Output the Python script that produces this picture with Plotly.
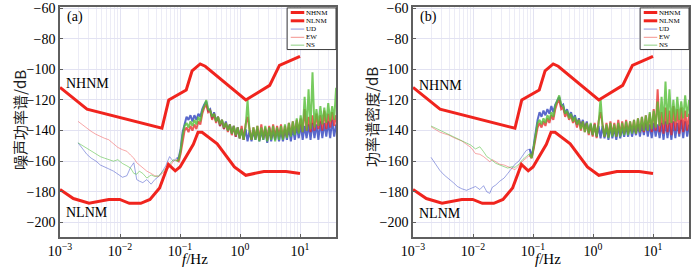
import numpy as np
import plotly.graph_objects as go

# ---------------- data ----------------
# Peterson noise models (frequency Hz, dB)
NHNM_F = [0.001, 0.00282, 0.05, 0.065, 0.127, 0.159, 0.217, 0.263, 1.25, 3.125, 4.545, 10.0]
NHNM_DB = [-111.8, -126.0, -138.5, -120.0, -113.5, -101.0, -96.5, -98.0, -120.0, -110.5, -97.4, -91.5]
NLNM_F = [0.001, 0.00167, 0.00305, 0.0065, 0.0099, 0.0143, 0.0222, 0.0316, 0.0457, 0.0641,
          0.0833, 0.1, 0.167, 0.2, 0.233, 0.417, 0.806, 1.25, 2.5, 5.88, 10.0]
NLNM_DB = [-178.5, -184.4, -187.5, -185.0, -185.0, -187.5, -187.5, -185.0, -177.5, -162.1,
           -166.3, -163.8, -149.0, -141.1, -141.1, -148.6, -163.7, -169.2, -166.7, -166.7, -168.0]

# low-frequency sampling grid (Hz)
F_LOW = [0.002, 0.0024, 0.0028, 0.0033, 0.004, 0.0047, 0.0055, 0.0065, 0.0078, 0.0092,
         0.011, 0.013, 0.015, 0.017, 0.019, 0.021, 0.024, 0.028, 0.033, 0.038,
         0.044, 0.05, 0.058, 0.067, 0.077, 0.088]
# high-frequency sampling grid (Hz), uniform in log
F_HIGH = list(np.geomspace(0.095, 40.0, 81))

X_TICKVALS = [0.001, 0.01, 0.1, 1, 10]
X_TICKTEXT = ["10<sup>−3</sup>", "10<sup>−2</sup>", "10<sup>−1</sup>", "10<sup>0</sup>", "10<sup>1</sup>"]

# panel (a)
UD_A_LOW = [-148, -152, -155.5, -158, -160, -162.5, -163.5, -165, -166.5, -168.5,
            -170.5, -169.5, -164, -161, -172, -173, -174, -172, -175, -172,
            -170, -167, -163, -157, -160, -158]
EW_A_LOW = [-134, -136.5, -138.5, -140.5, -142.5, -144, -145, -146, -148.5, -151,
            -152.5, -153.5, -156, -158, -161, -162.5, -164.5, -166.5, -168, -169.5,
            -170, -168, -166, -164, -160, -159]
NS_A_LOW = [-148, -150, -151.5, -153.5, -155.5, -157, -158, -159, -160, -159,
            -161.5, -163, -164.5, -168, -168.5, -166.5, -168, -171, -169, -170,
            -169.5, -167.5, -165, -162, -159, -160]
UD_A_HIGH = [-158, -152, -141, -136, -131, -133, -130, -134, -130, -133,
             -129, -131, -126, -123, -121, -127, -126, -132, -128, -134,
             -131, -137, -133, -139, -134, -140, -136, -142, -137, -144,
             -138, -145, -139, -146, -139, -147, -140, -147, -140, -146,
             -139, -147, -140, -146, -139, -148, -138, -147, -140, -146,
             -139, -147, -140, -147, -139, -146, -138, -147, -138, -146,
             -137, -145, -136, -146, -137, -145, -136, -146, -135, -145,
             -136, -146, -134, -145, -135, -144, -134, -145, -133, -144, -136]
EW_A_HIGH = [-160, -155, -146, -140, -138, -141, -137, -140, -136, -139,
             -134, -136, -129, -125, -123, -128, -127, -133, -129, -135,
             -131, -137, -133, -139, -135, -141, -136, -143, -137, -144,
             -138, -145, -137, -146, -136, -131, -139, -146, -138, -145,
             -137, -146, -136, -145, -138, -146, -137, -145, -136, -145,
             -137, -144, -136, -145, -137, -144, -135, -143, -134, -142,
             -133, -141, -132, -141, -126, -140, -131, -141, -130, -140,
             -129, -139, -130, -140, -127, -139, -129, -138, -128, -137, -130]
NS_A_HIGH = [-159, -153, -143, -137, -135, -138, -134, -137, -133, -136,
             -131, -134, -127, -124, -120, -126, -127, -131, -129, -134,
             -131, -136, -133, -138, -135, -140, -136, -142, -137, -143,
             -138, -145, -139, -146, -138, -120, -140, -146, -138, -146,
             -137, -147, -138, -146, -137, -147, -138, -146, -137, -147,
             -138, -146, -137, -146, -136, -145, -135, -144, -134, -143,
             -132, -142, -130, -141, -118, -140, -113, -139, -102, -138,
             -126, -137, -124, -136, -125, -135, -122, -134, -124, -133, -112]

# panel (b)
UD_B_LOW = [-157.5, -162.5, -166, -169, -171.5, -174, -176.5, -178, -179, -178,
            -176.5, -178.5, -176, -180, -181, -177, -175.5, -173, -171, -168,
            -165, -162, -160, -156, -153, -152]
EW_B_LOW = [-137.5, -139.5, -141, -142, -143, -144.5, -145.5, -146.8, -149, -151,
            -155, -155.5, -157, -158.5, -160.3, -159, -160.5, -162, -162.5, -163.6,
            -164.5, -165.5, -163, -160, -158, -156]
NS_B_LOW = [-137, -138.5, -139.8, -141, -142.3, -143.8, -145, -146.5, -148, -149.5,
            -152, -150.6, -153.8, -157, -158.2, -159.5, -161.4, -162.5, -163.6, -164.5,
            -163.6, -164, -162, -159, -157, -155]
UD_B_HIGH = [-157, -150, -140, -133, -128, -131, -127, -130, -126, -129,
             -124, -128, -123, -120, -118, -124, -123, -129, -126, -131,
             -128, -133, -130, -136, -132, -137, -133, -139, -134, -141,
             -136, -143, -136, -144, -137, -145, -137, -145, -138, -146,
             -137, -145, -138, -146, -137, -145, -138, -144, -137, -144,
             -136, -144, -137, -143, -136, -144, -136, -143, -135, -144,
             -136, -145, -135, -144, -136, -145, -135, -146, -134, -145,
             -135, -146, -134, -145, -135, -144, -133, -145, -134, -144, -136]
EW_B_HIGH = [-158, -152, -144, -138, -135, -138, -134, -137, -132, -135,
             -130, -133, -126, -122, -120, -126, -125, -131, -128, -133,
             -130, -135, -132, -138, -133, -140, -134, -141, -135, -143,
             -136, -144, -135, -145, -134, -128, -136, -144, -135, -144,
             -134, -143, -135, -144, -133, -143, -134, -142, -133, -142,
             -134, -141, -133, -142, -132, -141, -131, -141, -130, -140,
             -129, -141, -126, -140, -113, -141, -128, -142, -125, -141,
             -127, -143, -124, -140, -126, -142, -125, -141, -127, -140, -129]
NS_B_HIGH = [-158, -151, -142, -135, -133, -136, -132, -135, -130, -133,
             -128, -131, -124, -120, -117, -123, -124, -129, -127, -132,
             -129, -134, -131, -136, -133, -139, -134, -141, -135, -142,
             -135, -143, -136, -144, -136, -119, -137, -144, -136, -145,
             -135, -144, -136, -144, -135, -144, -135, -143, -134, -143,
             -134, -142, -133, -142, -132, -141, -131, -140, -130, -140,
             -128, -139, -127, -138, -121, -137, -118, -136, -108, -136,
             -113, -135, -120, -134, -118, -133, -121, -132, -117, -131, -120]

PANELS = [
    dict(label="(a)", ytitle="噪声功率谱/dB",
         series=[(UD_A_LOW, UD_A_HIGH, "ud"), (EW_A_LOW, EW_A_HIGH, "ew"), (NS_A_LOW, NS_A_HIGH, "ns")]),
    dict(label="(b)", ytitle="功率谱密度/dB",
         series=[(UD_B_LOW, UD_B_HIGH, "ud"), (EW_B_LOW, EW_B_HIGH, "ew"), (NS_B_LOW, NS_B_HIGH, "ns")]),
]

# ---------------- style ----------------
W, H = 700, 271
SERIF = "Liberation Serif, Times New Roman, serif"
CJK = "Noto Sans CJK SC"
MODEL_RED = "rgb(240,36,30)"
COL_LOW = {"ud": "rgba(60,75,200,0.5)", "ew": "rgba(240,60,60,0.45)", "ns": "rgba(80,190,60,0.55)"}
COL_HIGH = {"ud": "rgba(35,55,185,0.75)", "ew": "rgba(232,35,35,0.75)", "ns": "rgba(85,190,55,0.8)"}
LEG_UD = "rgb(160,165,225)"
LEG_EW = "rgb(245,165,160)"
LEG_NS = "rgb(160,215,150)"
GRID = "rgb(226,226,242)"
MINOR_GRID = "rgb(236,236,246)"
AXC = "rgb(95,95,95)"

XDOM = [[60 / W, 336 / W], [413 / W, 689 / W]]
YDOM = [1 - 237 / H, 1 - 7 / H]

fig = go.Figure()
shapes = []
annos = []

for i, p in enumerate(PANELS):
    xa = "x" if i == 0 else "x2"
    ya = "y" if i == 0 else "y2"
    xd = "x domain" if i == 0 else "x2 domain"
    yd = "y domain" if i == 0 else "y2 domain"
    for low, high, key in p["series"]:
        fig.add_trace(go.Scatter(x=F_LOW, y=low, mode="lines", xaxis=xa, yaxis=ya,
                                 line=dict(color=COL_LOW[key], width=1), showlegend=False,
                                 hoverinfo="skip"))
        fig.add_trace(go.Scatter(x=F_LOW[-1:] + F_HIGH, y=low[-1:] + high, mode="lines",
                                 xaxis=xa, yaxis=ya,
                                 line=dict(color=COL_HIGH[key], width=2), showlegend=False,
                                 hoverinfo="skip"))
    fig.add_trace(go.Scatter(x=NHNM_F, y=NHNM_DB, mode="lines", xaxis=xa, yaxis=ya,
                             line=dict(color=MODEL_RED, width=3), showlegend=False))
    fig.add_trace(go.Scatter(x=NLNM_F, y=NLNM_DB, mode="lines", xaxis=xa, yaxis=ya,
                             line=dict(color=MODEL_RED, width=3), showlegend=False))

    # manual legend box
    bx0 = 0.823
    shapes.append(dict(type="rect", xref=xd, yref=yd, x0=bx0, x1=1.0, y0=0.815, y1=0.996,
                       line=dict(color="rgb(60,60,60)", width=1), fillcolor="white", layer="above"))
    rows = [("NHNM", MODEL_RED, 3), ("NLNM", MODEL_RED, 3), ("UD", LEG_UD, 1.2),
            ("EW", LEG_EW, 1.2), ("NS", LEG_NS, 1.2)]
    ys = [0.976, 0.940, 0.904, 0.868, 0.834]
    for (name, col, wd), yy in zip(rows, ys):
        shapes.append(dict(type="line", xref=xd, yref=yd, x0=bx0 + 0.013, x1=bx0 + 0.062,
                           y0=yy, y1=yy, line=dict(color=col, width=wd), layer="above"))
        annos.append(dict(xref=xd, yref=yd, x=bx0 + 0.066, y=yy, text=name, showarrow=False,
                          xanchor="left", yanchor="middle", borderpad=0,
                          font=dict(family=SERIF, size=7, color="black")))

    annos.append(dict(xref=xd, yref=yd, x=0.018, y=0.955 if i == 0 else 0.956, text=p["label"],
                      showarrow=False, xanchor="left", yanchor="middle",
                      font=dict(family=SERIF, size=14, color="black")))
    annos.append(dict(xref=xd, yref=yd, x=0.015, y=0.668 if i == 0 else 0.66, text="NHNM",
                      showarrow=False, xanchor="left", yanchor="middle",
                      font=dict(family=SERIF, size=14, color="black")))
    annos.append(dict(xref=xd, yref=yd, x=0.015, y=0.107 if i == 0 else 0.103, text="NLNM",
                      showarrow=False, xanchor="left", yanchor="middle",
                      font=dict(family=SERIF, size=14, color="black")))
    # axis titles
    annos.append(dict(xref="paper", yref="paper", x=(XDOM[i][0] + XDOM[i][1]) / 2 - 3 / W,
                      y=1 - 259 / H, text="<i>f</i>/Hz", showarrow=False,
                      xanchor="center", yanchor="middle",
                      font=dict(family=SERIF, size=15, color="black")))
    annos.append(dict(xref="paper", yref="paper", x=(19 if i == 0 else 372) / W,
                      y=1 - (120 if i == 0 else 117) / H, text=p["ytitle"], showarrow=False,
                      textangle=-90, xanchor="center", yanchor="middle",
                      font=dict(family=CJK, size=15, color="rgb(30,30,30)")))

axis_common = dict(showline=True, linecolor=AXC, linewidth=1.5, mirror=True,
                   ticks="inside", ticklen=3, tickcolor=AXC, zeroline=False, automargin=False,
                   tickfont=dict(family=SERIF, size=14, color="black"))
for i in range(2):
    sfx = "" if i == 0 else "2"
    fig.update_layout(**{
        "xaxis" + sfx: dict(type="log", range=[-3, 1.6], domain=XDOM[i],
                            tickmode="array", tickvals=X_TICKVALS, ticktext=X_TICKTEXT,
                            showgrid=True, gridcolor=GRID,
                            minor=dict(showgrid=True, gridcolor=MINOR_GRID, ticks="", dtick="D1"),
                            anchor="y" + sfx, **axis_common),
        "yaxis" + sfx: dict(range=[-209.5, -59.3], domain=YDOM, dtick=20, showgrid=True,
                            gridcolor=GRID, anchor="x" + sfx, **axis_common),
    })

fig.update_layout(width=W, height=H, margin=dict(l=0, r=0, t=0, b=0, autoexpand=False),
                  plot_bgcolor="white", paper_bgcolor="white",
                  shapes=shapes, annotations=annos, showlegend=False)

fig.write_html("out.html", config={"displayModeBar": False},
               post_script="document.body.style.margin='0';")
